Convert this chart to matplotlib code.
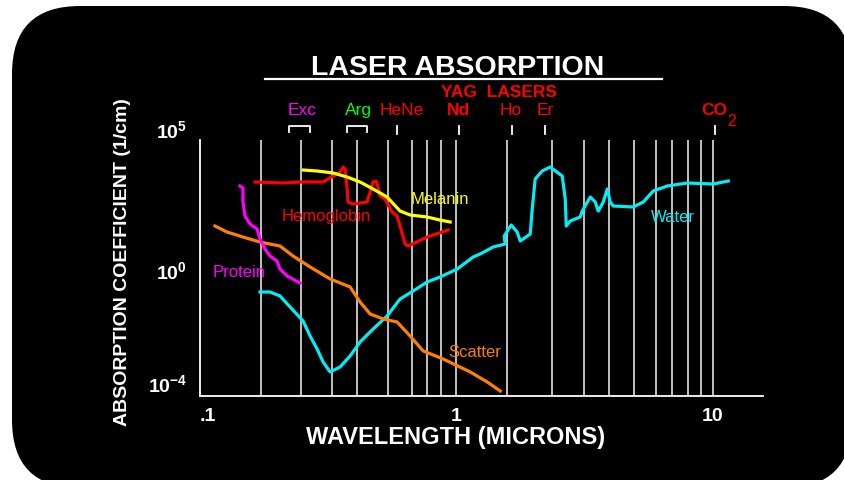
import matplotlib
matplotlib.use("Agg")
import matplotlib.pyplot as plt
from matplotlib.patches import FancyBboxPatch
from matplotlib.lines import Line2D

plt.rcParams["font.family"] = ["Liberation Sans", "DejaVu Sans"]
plt.rcParams["mathtext.fontset"] = "custom"
plt.rcParams["mathtext.rm"] = "Liberation Sans"
plt.rcParams["mathtext.bf"] = "Liberation Sans:bold"

# absorption curves: wavelength (microns), absorption coefficient (1/cm)
protein_wl = [0.1438, 0.1476, 0.1476, 0.1503, 0.1573, 0.1675, 0.1720, 0.1799,
              0.1881, 0.2003, 0.2058, 0.2193, 0.2463]
protein_ab = [908, 771, 245, 78, 40.6, 27, 11.9, 5.26, 2.97, 1.97, 1.02, 0.578, 0.326]

hemo_wl = [0.1645, 0.2114, 0.2463, 0.3029, 0.3315, 0.3529, 0.3626, 0.3692, 0.3758,
           0.3792, 0.3966, 0.4497, 0.4746, 0.4875, 0.4963, 0.5053, 0.5284, 0.5627,
           0.5886, 0.6046, 0.6324, 0.6497, 0.7706, 0.9306]
hemo_ab = [1259, 1161, 1259, 1259, 2056, 2851, 4295, 3648, 711, 245, 208, 245,
           1259, 1367, 837, 401, 313, 108, 78, 34.5, 7.9, 6.7, 14, 24.9]

melanin_wl = [0.2531, 0.2870, 0.3315, 0.3758, 0.4222, 0.4746, 0.5380, 0.6046,
              0.6615, 0.7706, 0.8662, 0.9475]
melanin_ab = [3357, 3097, 2630, 1897, 1259, 711, 369, 117, 85, 72, 56, 47.8]

scatter_wl = [0.1148, 0.1279, 0.1476, 0.1720, 0.2058, 0.2313, 0.2696, 0.3226, 0.3860,
              0.4222, 0.4620, 0.5192, 0.5886, 0.6615, 0.7436, 0.8897, 1.134, 1.321, 1.485]
scatter_ab = [34.5, 21.1, 14.0, 9.3, 6.7, 2.97, 1.21, 0.453, 0.236, 0.069, 0.0259,
              0.0172, 0.01345, 0.00428, 0.00126, 0.000653, 0.000226, 0.0000995, 0.0000477]

water_wl = [0.1720, 0.1881, 0.2058, 0.2252, 0.2531, 0.2696, 0.2870, 0.3029, 0.3226,
            0.3529, 0.3860, 0.4222, 0.4746, 0.5380, 0.6046, 0.6799, 0.7706, 0.8662,
            1.009, 1.165, 1.240, 1.394, 1.553, 1.539, 1.639, 1.729, 1.777, 1.944,
            1.979, 2.033, 2.164, 2.326, 2.591, 2.662, 2.686, 2.784, 3.045, 3.100,
            3.332, 3.485, 3.580, 3.744, 3.881, 3.987, 4.096, 4.901, 5.362, 5.865,
            6.653, 7.960, 10.05, 11.50]
water_ab = [0.156, 0.156, 0.113, 0.0459, 0.0146, 0.00428, 0.00148, 0.000511, 0.000226,
            0.000339, 0.000834, 0.00262, 0.00759, 0.0220, 0.0881, 0.170, 0.354, 0.533,
            1.02, 2.73, 3.49, 6.19, 7.91, 15.2, 37.4, 21.1, 10.1, 17.9,
            138, 1610, 3097, 4295, 2056, 313, 34.5, 51.9, 72, 117,
            369, 245, 117, 245, 711, 245, 177, 163, 245, 604,
            908, 1161, 1069, 1367]

# vertical reference lines (microns)
grid_wl = [0.173, 0.248, 0.327, 0.412, 0.544, 0.673, 0.767, 0.871, 1.0,
           1.58, 2.36, 3.14, 3.95, 4.95, 6.03, 6.92, 8.0, 9.02, 10.0]

# laser lines
bracket_ranges = [(0.224, 0.2696), (0.377, 0.451)]
laser_ticks = [0.587, 1.027, 1.654, 2.223, 10.19]
laser_names = ["Exc", "Arg", "HeNe", "Nd", "Ho", "Er"]
laser_label_wl = [0.250, 0.415, 0.614, 1.018, 1.634, 2.223]
laser_colors = ["#ff00ff", "#00ff00", "#ff0000", "#ff0000", "#ff0000", "#ff0000"]
laser_weights = ["normal", "normal", "normal", "bold", "normal", "normal"]

Y_LO = 10 ** -4.5    # bottom of the frame
Y_FRAME = 10 ** 4.59  # top of the drawn frame / grid lines
Y_HI = 1e5           # view top (keeps the 10^5 label)

fig = plt.figure(figsize=(8.44, 4.81), dpi=100, facecolor="white")

# black rounded panel
panel = FancyBboxPatch((0.12, -0.08), 8.40, 4.82,
                       boxstyle="round,pad=0,rounding_size=0.68",
                       transform=fig.dpi_scale_trans, facecolor="black",
                       edgecolor="none", zorder=-10)
fig.patches.append(panel)

ax = fig.add_axes([0.2365, 0.17464, 0.6675, 0.5561])
ax.patch.set_visible(False)
ax.set_xscale("log")
ax.set_yscale("log")

ax.set_xticks([0.1, 1, 10])
ax.set_xticklabels([".1", "1", "10"])
ax.set_yticks([1e5, 1e0, 1e-4])
ax.set_yticklabels([r"$\mathbf{10^{5}}$", r"$\mathbf{10^{0}}$", r"$\mathbf{10^{-4}}$"])
ax.minorticks_off()
ax.set_xlim(0.1, 15.7)
ax.set_ylim(Y_LO, Y_HI)

ax.vlines(grid_wl, Y_LO, Y_FRAME, color="#d0d0d0", lw=1.3, zorder=1)

lw = 2.3
ax.plot(water_wl, water_ab, color="#00eef5", lw=lw, zorder=3)
ax.plot(scatter_wl, scatter_ab, color="#ff8000", lw=lw, zorder=3)
ax.plot(protein_wl, protein_ab, color="#ff00ff", lw=lw, zorder=3)
ax.plot(hemo_wl, hemo_ab, color="#ff0000", lw=lw, zorder=3)
ax.plot(melanin_wl, melanin_ab, color="#ffff00", lw=lw, zorder=3)

lab_fs = 12
ax.text(0.1128, 0.82, "Protein", color="#ff00ff", fontsize=lab_fs, va="center")
ax.text(0.313, 80, "Hemoglobin", color="#ff0000", fontsize=lab_fs, ha="center", va="center")
ax.text(0.866, 340, "Melanin", color="#ffff00", fontsize=lab_fs, ha="center", va="center")
ax.text(1.186, 0.00119, "Scatter", color="#ff8000", fontsize=lab_fs, ha="center", va="center")
ax.text(7.0, 73.8, "Water", color="#00eef5", fontsize=lab_fs, ha="center", va="center")

for s in ["top", "right"]:
    ax.spines[s].set_visible(False)
for s in ["left", "bottom"]:
    ax.spines[s].set_color("white")
    ax.spines[s].set_linewidth(1.3)
ax.spines["left"].set_bounds(Y_LO, Y_FRAME)

ax.tick_params(length=0, labelcolor="white", labelsize=14)
ax.tick_params(axis="y", pad=9)
ax.tick_params(axis="x", pad=8)
for lab in ax.get_xticklabels():
    lab.set_fontweight("bold")
ax.get_xticklabels()[0].set_ha("left")

ax.set_xlabel("WAVELENGTH (MICRONS)", color="white", fontsize=17,
              fontweight="bold", va="center")
ax.xaxis.set_label_coords(0.455, -0.150)
ax.set_ylabel("ABSORPTION COEFFICIENT (1/cm)", color="white", fontsize=14,
              fontweight="bold", va="center", ha="center")
ax.yaxis.set_label_coords(-0.136, 0.505)

# laser markers above the plot (y in axes fraction)
trans = ax.get_xaxis_transform()
for a, b in bracket_ranges:
    ax.plot([a, a, b, b], [0.9858, 1.0105, 1.0105, 0.9858], color="white", lw=1.3,
            transform=trans, clip_on=False)
for t in laser_ticks:
    ax.plot([t, t], [0.9794, 1.0105], color="white", lw=1.3, transform=trans, clip_on=False)
for name, wl, c, w in zip(laser_names, laser_label_wl, laser_colors, laser_weights):
    ax.text(wl, 1.0729, name, color=c, fontsize=12.5, fontweight=w, ha="center",
            va="center", transform=trans)
ax.text(10.1, 1.0729, "CO", color="#ff0000", fontsize=12.5, fontweight="bold",
        ha="center", va="center", transform=trans)
ax.text(11.9, 1.0318, "2", color="#ff0000", fontsize=11.5, ha="center",
        va="center", transform=trans)

fig.text(0.5427, 0.8586, "LASER ABSORPTION", color="white", fontsize=20.5,
         fontweight="bold", ha="center", va="center")
fig.add_artist(Line2D([0.314, 0.784], [0.8337, 0.8337], color="white", lw=1.6))
fig.text(0.5912, 0.8087, "YAG  LASERS", color="#ff0000", fontsize=12.5,
         fontweight="bold", ha="center", va="center")

fig.savefig("out.png", dpi=100, facecolor="white")
